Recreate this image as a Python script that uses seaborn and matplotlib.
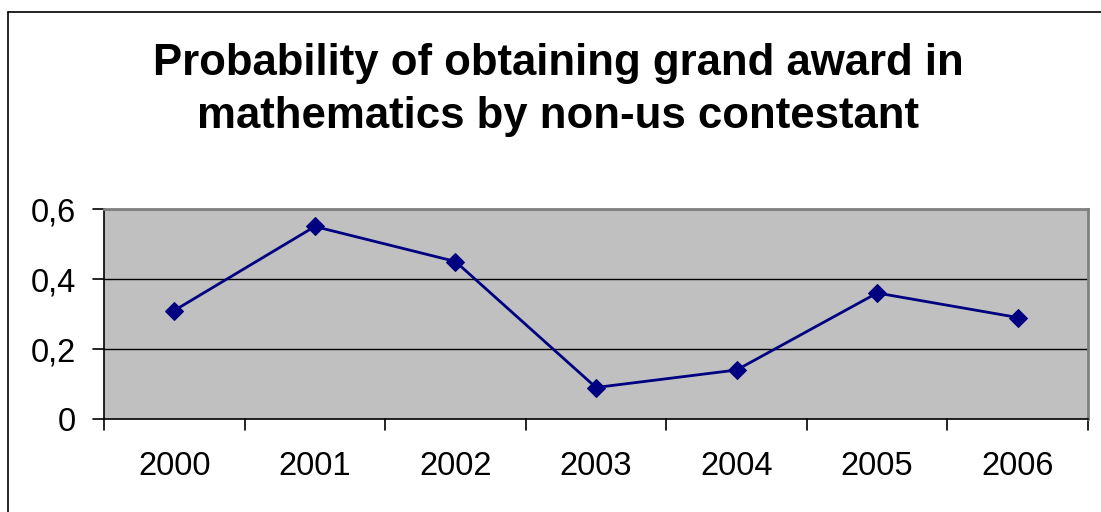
import matplotlib
matplotlib.use('Agg')
import matplotlib.pyplot as plt
import seaborn as sns
import pandas as pd
from matplotlib.lines import Line2D

# Dados
years = ['2000', '2001', '2002', '2003', '2004', '2005', '2006']
probability = [0.31, 0.55, 0.45, 0.09, 0.14, 0.36, 0.29]
y_ticks = [0, 0.2, 0.4, 0.6]
y_tick_labels = ['0', '0,2', '0,4', '0,6']
title = 'Probability of obtaining grand award in\nmathematics by non-us contestant'

df = pd.DataFrame({'Ano': years, 'Prob': probability})

sns.set_style('white')
plt.rcParams['font.family'] = ['Liberation Sans', 'DejaVu Sans']
plt.rcParams['text.color'] = 'black'
plt.rcParams['xtick.color'] = 'black'
plt.rcParams['ytick.color'] = 'black'

W, H = 1101, 512
fig = plt.figure(figsize=(W / 100, H / 100), dpi=100)
ax = fig.add_axes([104 / W, 1 - 419 / H, (1088 - 104) / W, (419 - 209) / H])
ax.set_facecolor('#C0C0C0')

sns.lineplot(data=df, x='Ano', y='Prob', ax=ax, color='#000080', linewidth=2,
             marker='D', markersize=9, markeredgecolor='#000080', sort=False)

ax.set_xlim(-0.5, len(years) - 0.5)
ax.set_ylim(0, 0.6)
ax.set_yticks(y_ticks)
ax.set_yticklabels(y_tick_labels, fontsize=23.5)
ax.set_xticks(range(len(years)))
ax.set_xticklabels(years, fontsize=23.5)
ax.tick_params(axis='x', length=0, pad=23, labelcolor='black')
ax.tick_params(axis='y', length=0, pad=20, labelcolor='black')
ax.set_xlabel('')
ax.set_ylabel('')

# Linhas de grade
for v in y_ticks[1:]:
    ax.axhline(v, color='black', linewidth=1, zorder=1)

# Bordas da área do gráfico
ax.spines['top'].set_color('#808080')
ax.spines['right'].set_color('#808080')
ax.spines['top'].set_linewidth(2)
ax.spines['right'].set_linewidth(2)
ax.spines['left'].set_color('black')
ax.spines['bottom'].set_color('black')
ax.spines['left'].set_linewidth(1.2)
ax.spines['bottom'].set_linewidth(1.2)

# Marcas entre categorias (estilo Excel)
for b in [i - 0.5 for i in range(len(years) + 1)]:
    ax.plot([b, b], [0, -0.03], color='black', linewidth=1.2, clip_on=False)
for v in y_ticks:
    ax.plot([-0.5 - 0.08, -0.5], [v, v], color='black', linewidth=1.2, clip_on=False)

fig.text(558 / W, 1 - 90 / H, title, ha='center', va='center', fontsize=31.5,
         fontweight='bold', linespacing=1.35, color='black')

# Borda da figura
fig.add_artist(Line2D([8 / W, 8 / W], [0, 1 - 12 / H], color='black', linewidth=1.2,
                      transform=fig.transFigure))
fig.add_artist(Line2D([8 / W, 1], [1 - 12 / H, 1 - 12 / H], color='black', linewidth=1.2,
                      transform=fig.transFigure))

fig.savefig('out.png', dpi=100)
